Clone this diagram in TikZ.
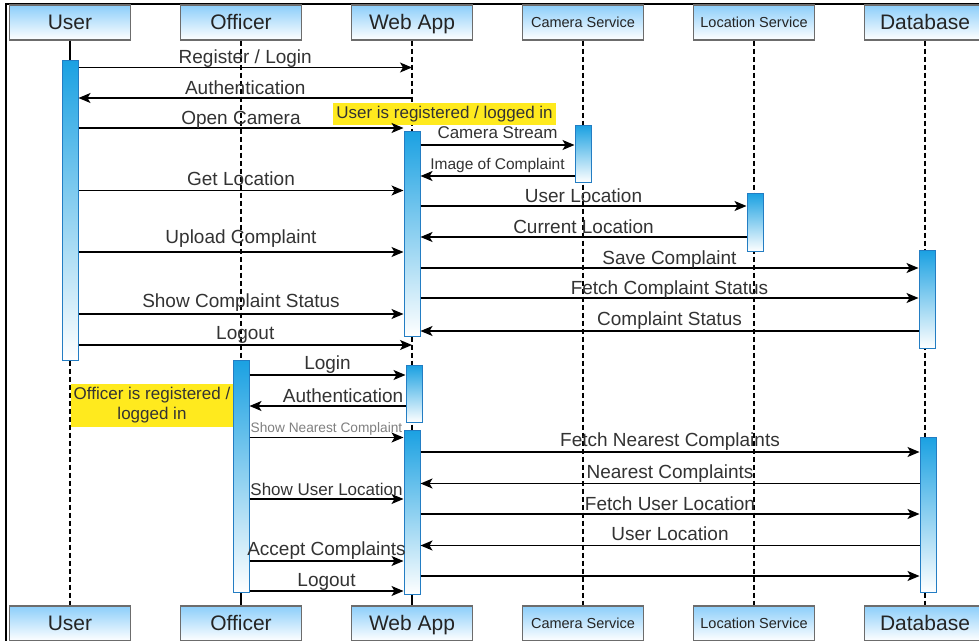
\documentclass[tikz,border=0pt]{standalone}
\usepackage{fontspec}
\setmainfont{Liberation Sans}
\usepackage{tikz}
\usetikzlibrary{arrows.meta, positioning}
\usepackage{xcolor}
\definecolor{hdrblue}{RGB}{140,206,250}
\definecolor{actblue}{RGB}{27,161,226}
\definecolor{actedge}{RGB}{35,125,195}
\definecolor{noteyellow}{RGB}{255,234,30}
\definecolor{txtgray}{RGB}{51,51,51}

\begin{document}
\begin{tikzpicture}[x=1pt, y=-1pt, node distance=171pt]
\tikzstyle{actor}=[rectangle, draw=gray!85!black, line width=1.2pt,
  top color=hdrblue, bottom color=white, minimum width=121pt,
  minimum height=35pt, inner sep=0pt, text=txtgray!70!black,
  text height=15pt, text depth=2pt,
  font={\fontsize{21}{24}\selectfont}]
\tikzstyle{service}=[actor, text height=10.5pt, text depth=1.5pt,
  font={\fontsize{14.5}{16}\selectfont}]
\tikzstyle{activation}=[rectangle, draw=actedge, line width=1pt,
  top color=actblue, bottom color=white, minimum width=16pt,
  inner sep=0pt, anchor=north]
\tikzstyle{lifeline}=[dash pattern=on 5pt off 3pt, line width=1.3pt]
\tikzstyle{msg}=[-{Stealth[length=12pt, width=10pt, inset=3pt]},
  line width=1.3pt]
\tikzstyle{lbl}=[above, inner sep=1pt, text depth=0.2em, text=txtgray,
  font={\fontsize{19}{21}\selectfont}]
\tikzstyle{note}=[rectangle, fill=noteyellow, inner sep=0pt,
  text=txtgray, align=center, font={\fontsize{17}{20}\selectfont}]

\clip (0,0) rectangle (979,640);
\fill [white] (0,0) rectangle (979,640);
\draw [line width=2pt] (6,660) -- (6,3.5) -- (1000,3.5);

% participants
\node (user) [actor] at (70,22.5) {User};
\node (officer) [actor, right of=user] {Officer};
\node (webapp) [actor, right of=officer] {Web App};
\node (camera) [service, right of=webapp] {Camera Service};
\node (location) [service, right of=camera] {Location Service};
\node (database) [actor, right of=location] {Database};

\node (user2) [actor, below of=user, yshift=-430pt] {User};
\node (officer2) [actor, below of=officer, yshift=-430pt] {Officer};
\node (webapp2) [actor, below of=webapp, yshift=-430pt] {Web App};
\node (camera2) [service, below of=camera, yshift=-430pt] {Camera Service};
\node (location2) [service, below of=location, yshift=-430pt] {Location Service};
\node (database2) [actor, below of=database, yshift=-430pt] {Database};

\draw [lifeline] (user) -- (user2);
\draw [lifeline] (officer) -- (officer2);
\draw [lifeline] (webapp) -- (webapp2);
\draw [lifeline] (camera) -- (camera2);
\draw [lifeline] (location) -- (location2);
\draw [lifeline] (database) -- (database2);

% notes
\node (usernote) [note, minimum width=223pt, minimum height=22pt]
  at (444.5,114) {User is registered / logged in};
\node (officernote) [note, minimum width=162pt, minimum height=43pt]
  at (152,405.5) {Officer is registered /\\logged in};

% activations
\node (useract) [activation, minimum height=300pt] at (70,60) {};
\node (officeract) [activation, minimum height=232pt] at (241,360) {};
\node (webact1) [activation, minimum height=205pt] at (412,131) {};
\node (webact2) [activation, minimum height=57pt] at (414,365) {};
\node (webact3) [activation, minimum height=164pt] at (412,430) {};
\node (camact) [activation, minimum height=57pt] at (583,125) {};
\node (locact) [activation, minimum height=58pt] at (755,193) {};
\node (dbact1) [activation, minimum height=98pt] at (927,250) {};
\node (dbact2) [activation, minimum height=155pt] at (928,437) {};

\draw [line width=1.3pt] (user.south) -- (useract.north);
\draw [line width=1.3pt] (officeract.south) -- (officer2.north);
\draw [line width=1.3pt] (webact3.south) -- (webapp2.north);

% user session
\draw [msg] (useract.east |- 0,67.5) -- node [lbl] {Register / Login} (webapp2 |- 0,67.5);
\draw [msg] (webapp2 |- 0,98) -- node [lbl] {Authentication} (useract.east |- 0,98);
\draw [msg] (useract.east |- 0,128) -- node [lbl] {Open Camera} (webact1.west |- 0,128);
\draw [msg] (webact1.east |- 0,145) -- node [lbl, yshift=3pt, font={\fontsize{17}{19}\selectfont}] {Camera Stream} (camact.west |- 0,145);
\draw [msg] (camact.west |- 0,176) -- node [lbl, yshift=3pt, font={\fontsize{15.5}{18}\selectfont}] {Image of Complaint} (webact1.east |- 0,176);
\draw [msg] (useract.east |- 0,190.5) -- node [lbl, yshift=1pt] {Get Location} (webact1.west |- 0,190.5);
\draw [msg] (webact1.east |- 0,206) -- node [lbl] {User Location} (locact.west |- 0,206);
\draw [msg] (locact.west |- 0,237) -- node [lbl] {Current Location} (webact1.east |- 0,237);
\draw [msg] (useract.east |- 0,252) -- node [lbl, yshift=5pt] {Upload Complaint} (webact1.west |- 0,252);
\draw [msg] (webact1.east |- 0,268) -- node [lbl] {Save Complaint} (dbact1.west |- 0,268);
\draw [msg] (webact1.east |- 0,298) -- node [lbl] {Fetch Complaint Status} (dbact1.west |- 0,298);
\draw [msg] (useract.east |- 0,314) -- node [lbl, yshift=3pt] {Show Complaint Status} (webact1.west |- 0,314);
\draw [msg] (dbact1.west |- 0,331) -- node [lbl, yshift=2pt] {Complaint Status} (webact1.east |- 0,331);
\draw [msg] (useract.east |- 0,345) -- node [lbl, yshift=2pt] {Logout} (webapp2 |- 0,345);

% officer session
\draw [msg] (officeract.east |- 0,375) -- node [lbl, yshift=2pt] {Login} (webact2.west |- 0,375);
\draw [msg] (webact2.west |- 0,406) -- node [lbl, pos=0.4] {Authentication} (officeract.east |- 0,406);
\draw [msg] (officeract.east |- 0,437.5) -- node [lbl, yshift=1pt, text=gray, font={\fontsize{13.7}{16}\selectfont}] {Show Nearest Complaint} (webact3.west |- 0,437.5);
\draw [msg] (webact3.east |- 0,452) -- node [lbl, yshift=2pt] {Fetch Nearest Complaints} (dbact2.west |- 0,452);
\draw [msg] (dbact2.west |- 0,483.5) -- node [lbl, yshift=1pt] {Nearest Complaints} (webact3.east |- 0,483.5);
\draw [msg] (officeract.east |- 0,499) -- node [lbl, font={\fontsize{17}{19}\selectfont}] {Show User Location} (webact3.west |- 0,499);
\draw [msg] (webact3.east |- 0,514) -- node [lbl] {Fetch User Location} (dbact2.west |- 0,514);
\draw [msg] (dbact2.west |- 0,545.5) -- node [lbl, yshift=1pt] {User Location} (webact3.east |- 0,545.5);
\draw [msg] (officeract.east |- 0,561) -- node [lbl, yshift=2pt] {Accept Complaints} (webact3.west |- 0,561);
\draw [msg] (webact3.east |- 0,576) -- (dbact2.west |- 0,576);
\draw [msg] (officeract.east |- 0,591) -- node [lbl, yshift=1pt] {Logout} (webact3.west |- 0,591);
\end{tikzpicture}
\end{document}
